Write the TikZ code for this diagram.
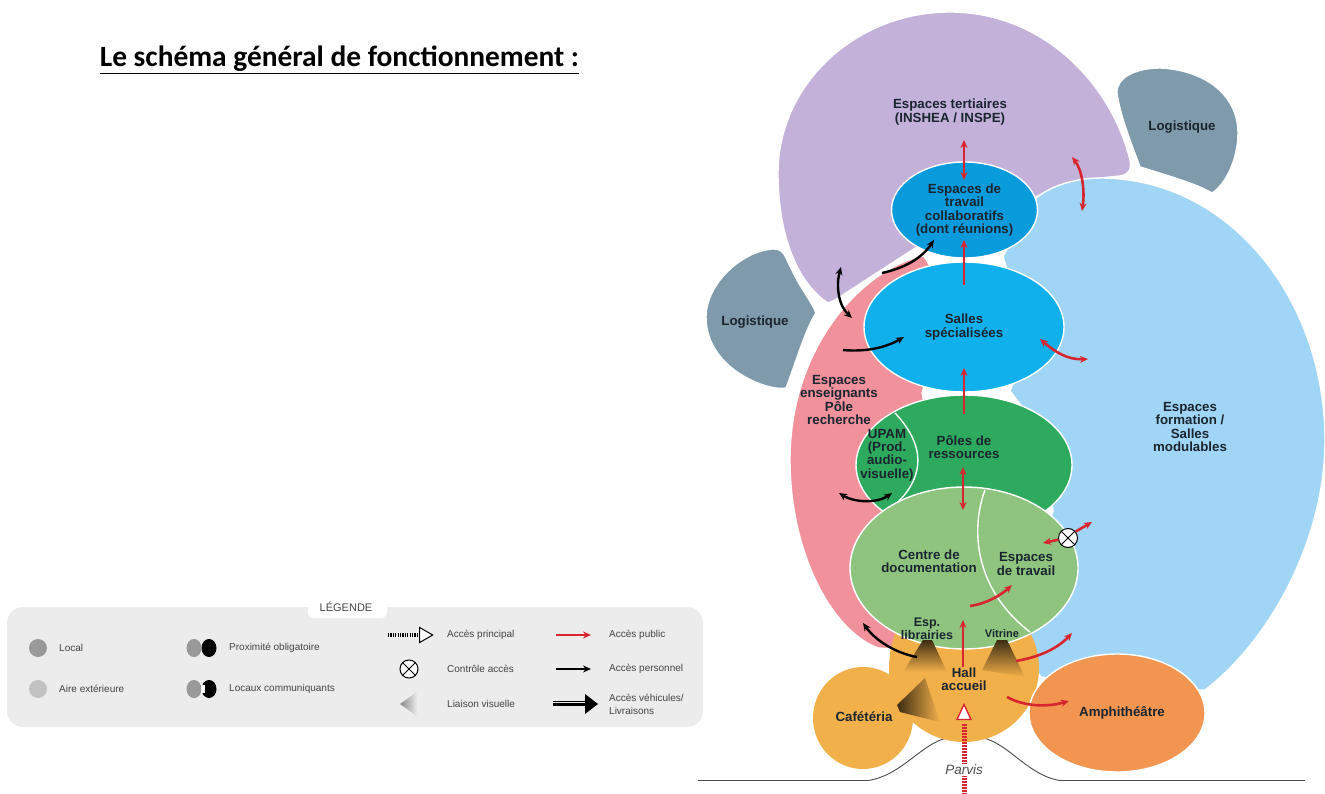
\documentclass[tikz,border=0pt]{standalone}
\usepackage{fontspec}
\setmainfont{Liberation Sans}
\newfontfamily\titlefont{Carlito}
\usetikzlibrary{shapes.geometric,arrows.meta}
\definecolor{cpurple}{HTML}{C3B1D9}
\definecolor{clog}{HTML}{7F9BAB}
\definecolor{cblue}{HTML}{A0D5F5}
\definecolor{cpink}{HTML}{F0919B}
\definecolor{ccollab}{HTML}{0A9BDC}
\definecolor{csalles}{HTML}{0FB0EC}
\definecolor{cdark}{HTML}{2EAA5E}
\definecolor{clight}{HTML}{8FC47F}
\definecolor{corange}{HTML}{F2B04A}
\definecolor{camphi}{HTML}{F29550}
\definecolor{cred}{HTML}{D7262F}
\definecolor{ctext}{HTML}{1A2530}
\definecolor{clegbg}{HTML}{ECECEC}
\definecolor{clegtx}{HTML}{444444}
\definecolor{cleggr}{HTML}{999999}
\tikzset{
  zone/.style={fill=#1,draw=white,line width=1.4pt,line join=round},
  blob/.style={ellipse,fill=#1,draw=white,line width=1.4pt,inner sep=0pt,align=center,text=ctext,
    font=\fontsize{13.3}{13.3}\selectfont\bfseries},
  lab/.style={align=center,text=ctext,inner sep=0pt,font=\fontsize{13.3}{13.3}\selectfont\bfseries},
  redarr/.style={draw=cred,line width=2.6pt,>={Stealth[length=8pt,width=7pt]}},
  blkarr/.style={draw=black,line width=2.4pt,>={Stealth[length=8pt,width=7pt]}},
  legtxt/.style={anchor=west,align=left,text=clegtx,inner sep=0pt,font=\fontsize{10}{13}\selectfont},
  legdot/.style={ellipse,minimum width=#1,minimum height=18pt,inner sep=0pt}
}
\begin{document}
\begin{tikzpicture}[x=1pt,y=-1pt]
\useasboundingbox (0,0) rectangle (1325,794);
\fill[white] (0,0) rectangle (1325,794);
% title
\node[inner sep=0pt,font=\titlefont\fontsize{29.4}{34}\selectfont\bfseries] (title) at (339.5,60) {\underline{Le schéma général de fonctionnement :}};
% legend
\fill[clegbg,rounded corners=16pt] (7,607) rectangle (703,727);
\fill[white,rounded corners=6pt] (308,600) rectangle (387,618);
\node[inner sep=0pt,text=clegtx,font=\fontsize{11}{13}\selectfont] (legt) at (346,607) {LÉGENDE};
\node[legdot=18pt,fill=cleggr] (l1) at (38,648) {};
\node[legtxt] (l1t) at (59,648) {Local};
\node[legdot=18pt,fill=cleggr!60] (l2) at (38,689) {};
\node[legtxt] (l2t) at (59,689) {Aire extérieure};
\node[legdot=15pt,fill=cleggr] (l3a) at (194,648) {};
\node[legdot=15pt,fill=black] (l3b) at (209,648) {};
\node[legtxt] (l3t) at (229,648) {Proximité obligatoire};
\node[legdot=15pt,fill=cleggr] (l4a) at (194,689) {};
\node[legdot=15pt,fill=black] (l4b) at (209,689) {};
\fill[white] (201,685) rectangle (205,693);
\node[legtxt] (l4t) at (229,689) {Locaux communiquants};
\coordinate (p0) at (388,635); \coordinate (p1) at (417,635);
\draw[black,line width=4pt,dash pattern=on 1.2pt off 1.2pt] (p0) -- (p1);
\node[isosceles triangle,isosceles triangle apex angle=60,draw=black,fill=white,line width=1pt,inner sep=0pt,minimum height=13pt,minimum width=15pt] (ptri) at (424,635) {};
\node[legtxt] (p1t) at (447,635) {Accès principal};
\node[circle,draw=black,fill=white,line width=1pt,minimum size=18pt,inner sep=0pt] (cx) at (409,669) {};
\draw[black,line width=1pt] (cx.45) -- (cx.225) (cx.135) -- (cx.315);
\node[legtxt] (p2t) at (447,669) {Contrôle accès};
\shade[left color=cleggr!90!black,right color=clegbg] (400,704) -- (417,692) -- (417,716) -- cycle;
\node[legtxt] (p3t) at (447,704) {Liaison visuelle};
\coordinate (la) at (556,635); \coordinate (lb) at (591,635);
\draw[redarr,->] (la) -- (lb);
\node[legtxt] (q1t) at (609,635) {Accès public};
\coordinate (lc) at (556,669); \coordinate (ld) at (591,669);
\draw[blkarr,->] (lc) -- (ld);
\node[legtxt] (q2t) at (609,669) {Accès personnel};
\coordinate (le) at (553,704); \coordinate (lf) at (586,704);
\draw[black,line width=6.5pt] (le) -- (lf);
\draw[clegbg,line width=1pt] (553,702) -- (586,702) (553,706) -- (586,706);
\fill[black] (585,694) -- (598,704) -- (585,714) -- cycle;
\node[legtxt] (q3t) at (609,704) {Accès véhicules/\\Livraisons};
% ground
\draw[black!70,line width=0.9pt] (698,780.5) -- (868,780.5) .. controls (905,775) and (925,737) .. (955,737) -- (975,737) .. controls (1005,737) and (1025,775) .. (1060,780.5) -- (1305,780.5);
% zones
\draw[zone=cpurple] (828,303) .. controls (800,285) and (778,240) .. (778,173) .. controls (778,85) and (855,12) .. (950,12) .. controls (1040,12) and (1110,80) .. (1130,160) .. controls (1132,170) and (1128,175) .. (1120,176) -- (1100,178) -- (1040,195) -- (964,230) -- (920,245) -- (835,300) -- cycle;
\draw[zone=clog] (1117,93) .. controls (1116,78) and (1135,68) .. (1160,68) .. controls (1205,70) and (1238,95) .. (1238,133) .. controls (1238,160) and (1225,185) .. (1212,193) .. controls (1195,183) and (1165,175) .. (1140,167) .. controls (1130,140) and (1120,115) .. (1117,93) -- cycle;
\draw[zone=clog] (772,249) .. controls (785,248) and (785,258) .. (792,270) .. controls (800,288) and (812,302) .. (816,313) .. controls (805,330) and (795,365) .. (786,388) .. controls (770,392) and (706,370) .. (706,317) .. controls (706,285) and (740,252) .. (772,249) -- cycle;
\draw[zone=cpink] (924,256) .. controls (870,265) and (790,340) .. (790,460) .. controls (790,550) and (830,630) .. (878,648) -- (893,649) -- (940,600) -- (930,430) -- (922,393) -- (950,300) -- cycle;
\draw[zone=cblue] (1030,205) .. controls (1040,190) and (1070,178) .. (1100,178) .. controls (1230,178) and (1325,300) .. (1325,440) .. controls (1325,540) and (1270,640) .. (1205,690) -- (1110,690) -- (1060,680) -- (1041,677) -- (1020,650) -- (1040,550) -- (1053,511) -- (1040,430) -- (1010,391) -- (1030,340) -- (1003,257) -- (1020,220) -- cycle;
% hall, cafeteria
\fill[corange] (964,668) ellipse [x radius=75,y radius=74];
\fill[corange] (863,718) ellipse [x radius=50,y radius=51];
\fill[corange] (895,633) -- (890,653) -- (890,680) -- (915,705) -- (930,640) -- cycle;
\node[blob=cdark,minimum width=216pt,minimum height=140pt] (poles) at (964,465) {};
\draw[white,line width=1.4pt] (895,413) .. controls (925,445) and (925,475) .. (898,502);
\node[blob=clight,minimum width=228pt,minimum height=162pt] (centre) at (964,568) {};
\draw[white,line width=1.4pt] (985,490) .. controls (970,530) and (975,590) .. (1030,632);
\node[blob=csalles,minimum width=200pt,minimum height=130pt] (salles) at (964,327) {Salles\\spécialisées};
\node[blob=ccollab,minimum width=146pt,minimum height=96pt] (collab) at (964.5,210) {Espaces de\\travail\\collaboratifs\\(dont réunions)};
\node[blob=camphi,minimum width=176pt,minimum height=118pt] (amphi) at (1117,713) {};
% visual links
\shade[top color=black!75!corange,bottom color=corange] (923,640) -- (932,640) -- (947,672) -- (903,672) -- cycle;
\shade[top color=black!75!corange,bottom color=corange] (997,640) -- (1007,640) -- (1025,677) -- (982,670) -- cycle;
\shade[left color=black!75!corange,right color=corange] (897,705) -- (925,678) -- (940,722) -- (900,712) -- cycle;
% labels
\node[lab] (tert) at (950,112) {Espaces tertiaires\\(INSHEA / INSPE)};
\node[lab] (logr) at (1182,127) {Logistique};
\node[lab] (logl) at (755,322) {Logistique};
\node[lab] (ens) at (839,400) {Espaces\\enseignants\\Pôle\\recherche};
\node[lab] (upam) at (887,455) {UPAM\\(Prod.\\audio-\\visuelle)};
\node[lab] (pres) at (964,447) {Pôles de\\ressources};
\node[lab] (cdoc) at (929,561) {Centre de\\documentation};
\node[lab] (etrav) at (1026,564) {Espaces\\de travail};
\node[lab,font=\fontsize{12.5}{11}\selectfont\bfseries] (libr) at (927,629) {Esp.\\librairies};
\node[lab,font=\fontsize{11}{11}\selectfont\bfseries] (vitr) at (1002,634) {Vitrine};
\node[lab] (hall) at (964,679) {Hall\\accueil};
\node[lab] (cafe) at (864,717) {Cafétéria};
\node[lab] (amph) at (1122,713) {Amphithéâtre};
\node[lab] (form) at (1190,427) {Espaces\\formation /\\Salles\\modulables};
% entrance
\coordinate (ea) at (964,724); \coordinate (eb) at (964,794);
\draw[cred,line width=5pt,dash pattern=on 1.5pt off 1.5pt] (ea) -- (eb);
\node[fill=white,inner sep=1pt,text=black!70,font=\fontsize{13.5}{15}\selectfont\itshape] (parvis) at (964,770) {Parvis};
\node[isosceles triangle,isosceles triangle apex angle=50,shape border rotate=90,draw=cred,fill=white,line width=1.4pt,inner sep=0pt,minimum height=15pt,minimum width=14pt] (tri) at (964,715) {};
% red arrows
\coordinate (r1a) at (964,140); \coordinate (r1b) at (964,180);
\draw[redarr,<->] (r1a) -- (r1b);
\coordinate (r2a) at (964,285); \coordinate (r2b) at (964,240);
\draw[redarr,->] (r2a) -- (r2b);
\coordinate (r3a) at (964,414); \coordinate (r3b) at (964,368);
\draw[redarr,->] (r3a) -- (r3b);
\coordinate (r4a) at (963,467); \coordinate (r4b) at (963,510);
\draw[redarr,<->] (r4a) -- (r4b);
\coordinate (r5a) at (963,667); \coordinate (r5b) at (963,620);
\draw[redarr,->] (r5a) -- (r5b);
\coordinate (r6a) at (1072,157); \coordinate (r6b) at (1082,211);
\draw[redarr,<->] (r6a) .. controls (1082,170) and (1085,190) .. (r6b);
\coordinate (r7a) at (1040,339); \coordinate (r7b) at (1088,359);
\draw[redarr,<->] (r7a) .. controls (1055,352) and (1068,360) .. (r7b);
\coordinate (r8a) at (970,606); \coordinate (r8b) at (1012,585);
\draw[redarr,->] (r8a) .. controls (985,604) and (1000,596) .. (r8b);
\coordinate (r9a) at (1016,661); \coordinate (r9b) at (1072,633);
\draw[redarr,->] (r9a) .. controls (1040,657) and (1058,648) .. (r9b);
\coordinate (r10a) at (1007,697); \coordinate (r10b) at (1069,701);
\draw[redarr,->] (r10a) .. controls (1025,707) and (1048,707) .. (r10b);
\node[circle,draw=black,fill=white,line width=1pt,minimum size=19pt,inner sep=0pt] (ctrl) at (1068,538) {};
\draw[black,line width=1pt] (ctrl.45) -- (ctrl.225) (ctrl.135) -- (ctrl.315);
\coordinate (r11b) at (1092,522); \coordinate (r12b) at (1043,543);
\draw[redarr,->] (ctrl.40) -- (r11b);
\draw[redarr,->] (ctrl.190) -- (r12b);
% black arrows
\coordinate (b1a) at (882,273); \coordinate (b1b) at (934,240);
\draw[blkarr,->] (b1a) .. controls (905,268) and (922,258) .. (b1b);
\coordinate (b2a) at (841,267); \coordinate (b2b) at (852,318);
\draw[blkarr,<->] (b2a) .. controls (836,285) and (838,305) .. (b2b);
\coordinate (b3a) at (843,350); \coordinate (b3b) at (904,337);
\draw[blkarr,->] (b3a) .. controls (865,352) and (885,348) .. (b3b);
\coordinate (b4a) at (839,493); \coordinate (b4b) at (892,493);
\draw[blkarr,<->] (b4a) .. controls (855,503) and (878,503) .. (b4b);
\coordinate (b5a) at (917,657); \coordinate (b5b) at (863,623);
\draw[blkarr,->] (b5a) .. controls (895,653) and (875,640) .. (b5b);
\end{tikzpicture}
\end{document}
